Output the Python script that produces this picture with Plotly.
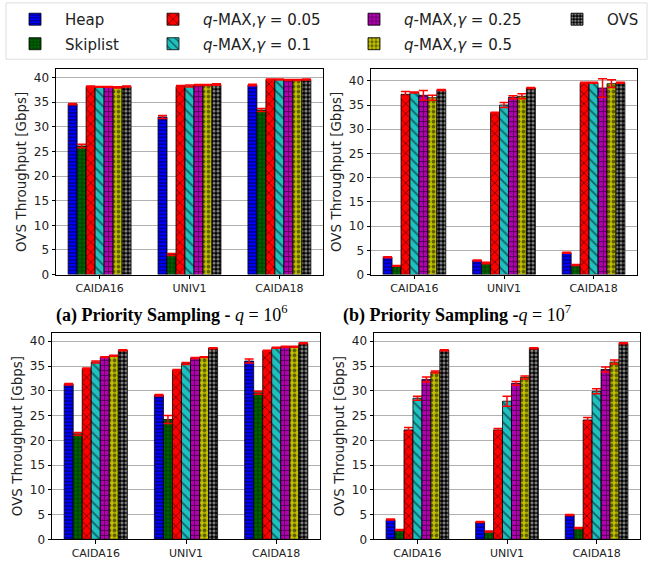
import plotly.graph_objects as go

categories = ["CAIDA16", "UNIV1", "CAIDA18"]
series_names = ["Heap", "Skiplist",
                "<i>q</i>-MAX,<i>γ</i> = 0.05", "<i>q</i>-MAX,<i>γ</i> = 0.1",
                "<i>q</i>-MAX,<i>γ</i> = 0.25", "<i>q</i>-MAX,<i>γ</i> = 0.5", "OVS"]

# panel (a)
a_vals = [[34.6, 32.0, 38.5], [26.1, 4.1, 33.4], [38.2, 38.2, 39.6], [38.1, 38.3, 39.6],
          [38.1, 38.5, 39.5], [38.0, 38.5, 39.5], [38.2, 38.6, 39.6]]
a_err = [[0.15, 0.3, 0.15], [0.35, 0.2, 0.3], [0.1, 0.2, 0.1], [0.1, 0.2, 0.1],
         [0.1, 0.1, 0.1], [0.15, 0.1, 0.1], [0.1, 0.15, 0.1]]
# panel (b)
b_vals = [[3.6, 2.9, 4.5], [1.8, 2.4, 2.0], [37.2, 33.4, 39.6], [37.6, 35.0, 39.6],
          [37.0, 36.6, 38.5], [36.5, 36.8, 39.4], [38.1, 38.5, 39.6]]
b_err = [[0.1, 0.1, 0.1], [0.1, 0.15, 0.1], [0.6, 0.1, 0.1], [0.1, 0.5, 0.1],
         [1.0, 0.3, 1.9], [0.5, 0.5, 0.8], [0.1, 0.1, 0.1]]
# panel (c)
c_vals = [[31.3, 29.1, 36.0], [21.3, 24.2, 29.6], [34.5, 34.2, 38.1], [35.8, 35.5, 38.7],
          [36.8, 36.6, 38.9], [37.1, 36.8, 38.9], [38.2, 38.6, 39.6]]
c_err = [[0.15, 0.15, 0.4], [0.3, 0.8, 0.3], [0.1, 0.1, 0.1], [0.2, 0.2, 0.1],
         [0.1, 0.1, 0.1], [0.1, 0.1, 0.1], [0.1, 0.1, 0.1]]
# panel (d)
d_vals = [[4.0, 3.5, 4.9], [1.9, 1.6, 2.3], [22.1, 22.1, 24.1], [28.5, 27.9, 29.9],
          [32.3, 31.5, 34.3], [33.8, 32.7, 35.8], [38.2, 38.6, 39.6]]
d_err = [[0.1, 0.1, 0.1], [0.1, 0.1, 0.1], [0.5, 0.3, 0.5], [0.4, 1.0, 0.5],
         [0.5, 0.4, 0.5], [0.2, 0.3, 0.4], [0.1, 0.1, 0.1]]

colors = ["#0000ff", "#006400", "#ff0000", "#20c0c0", "#b000b0", "#c0c000", "#000000"]
shapes = ["-", "+", "x", "\\", "+", ".", "."]
fgcolors = ["black", "black", "black", "black", "black", "black", "white"]
psizes = [3.5, 4, 7, 7, 5, 5, 4]
psolid = [0.4, 0.35, 0.25, 0.25, 0.35, 0.45, 0.5]
legend_ids = ["legend", "legend", "legend2", "legend2", "legend3", "legend3", "legend4"]

panels = [(a_vals, a_err, "x", "y"), (b_vals, b_err, "x2", "y2"),
          (c_vals, c_err, "x3", "y3"), (d_vals, d_err, "x4", "y4")]

fig = go.Figure()
for p, (vals, errs, xa, ya) in enumerate(panels):
    for i in range(7):
        fig.add_trace(go.Bar(
            x=categories, y=vals[i], name=series_names[i], xaxis=xa, yaxis=ya,
            legendgroup="s%d" % i,
            marker=dict(color=colors[i], line=dict(color="black", width=0.8),
                        pattern=dict(shape=shapes[i], fgcolor=fgcolors[i],
                                     size=psizes[i], solidity=psolid[i])),
            error_y=dict(type="data", array=errs[i], color="red", thickness=1.5, width=4.5),
            showlegend=(p == 0), legend=legend_ids[i],
        ))

W, H = 654, 571
def xd(l, r):
    return [l / W, r / W]
def yd(t, b):
    return [1 - b / H, 1 - t / H]

axfont = dict(family="DejaVu Sans", size=11, color="#222")
def xaxis(dom, anchor):
    return dict(domain=dom, anchor=anchor, range=[-0.485, 2.485], showline=True, mirror=True,
                linecolor="black", linewidth=1, ticks="outside", ticklen=3.5, tickcolor="black",
                tickfont=axfont, showgrid=False, fixedrange=True)
def yaxis(dom, anchor, top):
    return dict(domain=dom, anchor=anchor, range=[0, top], dtick=5, showline=True, mirror=True,
                linecolor="black", linewidth=1, ticks="outside", ticklen=3.5, tickcolor="black",
                tickfont=dict(family="DejaVu Sans", size=12, color="#222"),
                showgrid=True, gridcolor="#b0b0b0", gridwidth=1, zeroline=False,
                title=dict(text="OVS Throughput [Gbps]", font=dict(family="DejaVu Sans", size=13.5, color="#222"),
                           standoff=4))

legfont = dict(family="DejaVu Sans", size=15, color="#222")
def leg(x):
    return dict(x=x / W, y=1 - 3 / H, xanchor="left", yanchor="top", orientation="v",
                font=legfont, bgcolor="rgba(0,0,0,0)", tracegroupgap=2, itemwidth=50)

fig.update_layout(
    width=W, height=H, margin=dict(l=0, r=0, t=0, b=0),
    paper_bgcolor="white", plot_bgcolor="white",
    barmode="group", bargap=0.3, bargroupgap=0,
    xaxis=xaxis(xd(56, 323), "y"), yaxis=yaxis(yd(70, 278), "x", 41.7),
    xaxis2=xaxis(xd(371, 637), "y2"), yaxis2=yaxis(yd(70, 278), "x2", 42.4),
    xaxis3=xaxis(xd(52, 320), "y3"), yaxis3=yaxis(yd(337, 546), "x3", 41.7),
    xaxis4=xaxis(xd(374, 640), "y4"), yaxis4=yaxis(yd(337, 546), "x4", 41.7),
    legend=leg(5), legend2=leg(143), legend3=leg(344), legend4=leg(547),
    showlegend=True,
)

fig.add_shape(type="rect", xref="paper", yref="paper", x0=6 / W, x1=647 / W,
              y0=1 - 60 / H, y1=1 - 3 / H, line=dict(color="#dddddd", width=1))

capfont = dict(family="Liberation Serif", size=18, color="black")
fig.add_annotation(text="<b>(a) Priority Sampling -</b> <i>q</i> = 10<sup>6</sup>", x=171 / W, y=1 - 318 / H,
                   xref="paper", yref="paper", xanchor="center", yanchor="middle", showarrow=False, font=capfont)
fig.add_annotation(text="<b>(b) Priority Sampling -</b><i>q</i> = 10<sup>7</sup>", x=457 / W, y=1 - 318 / H,
                   xref="paper", yref="paper", xanchor="center", yanchor="middle", showarrow=False, font=capfont)

fig.write_html("out.html")
